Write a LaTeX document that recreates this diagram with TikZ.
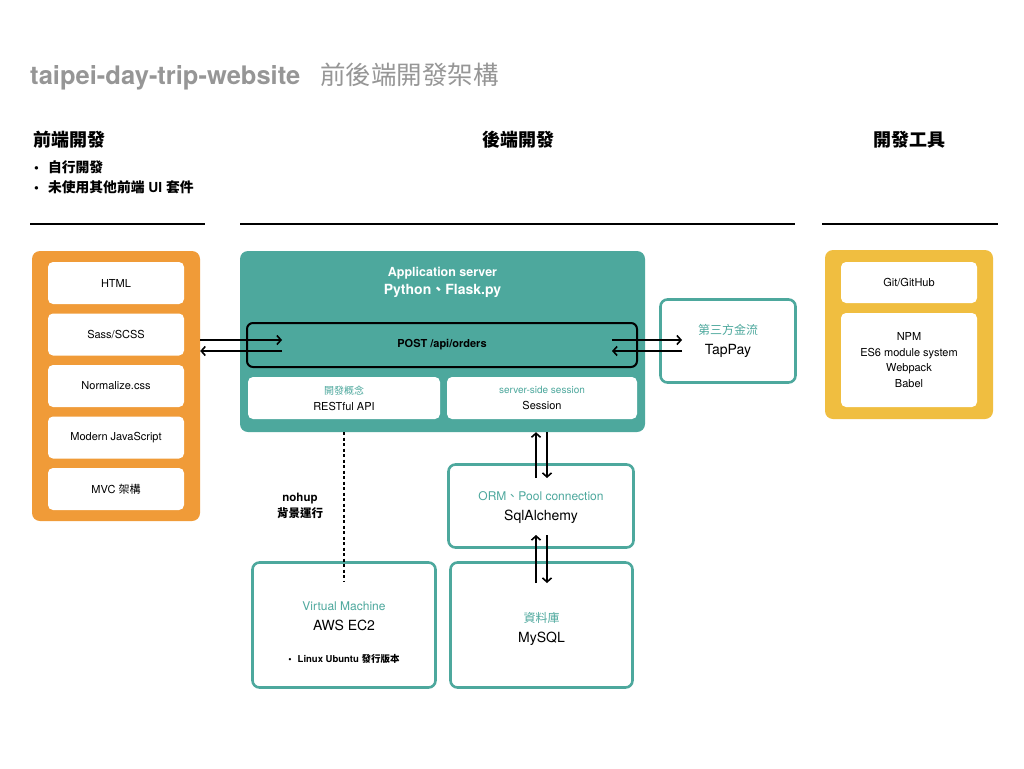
\documentclass[tikz,border=0pt]{standalone}
\usepackage{fontspec}
\setmainfont{TeX Gyre Heros}
\newfontfamily\cjk{Noto Sans CJK TC}
\usetikzlibrary{arrows.meta,calc,positioning}
\definecolor{frontorange}{RGB}{240,155,56}
\definecolor{backteal}{RGB}{77,168,157}
\definecolor{toolyellow}{RGB}{240,190,64}
\definecolor{titlegray}{RGB}{150,150,150}
\newcommand{\zh}[1]{{\cjk #1}}
\newcommand{\fsz}[2]{\fontsize{#1}{#2}\selectfont}

\begin{document}
\begin{tikzpicture}[x=1pt,y=-1pt,
  every node/.style={inner sep=0pt,align=center},
  panel/.style={rounded corners=8pt},
  item/.style={fill=white,rounded corners=5pt,minimum width=136pt,minimum height=42pt,font=\fsz{11}{14}},
  tealframe/.style={draw=backteal,line width=2.6pt,fill=white,rounded corners=7pt},
  framelabel/.style={font=\fsz{14}{20}},
  link/.style={line width=1.6pt,-{Straight Barb[length=4pt,width=9pt]}},
  heading/.style={font=\bfseries\fsz{18}{22}},
  sectionrule/.style={line width=2pt}]
  \fill[white] (0,0) rectangle (1024,768);
  \useasboundingbox (0,0) rectangle (1024,768);

  % titles
  \node[anchor=base west,font=\bfseries\fsz{25.5}{28},text=titlegray] (title) at (30,84)
    {taipei-day-trip-website\hspace{20pt}{\mdseries\zh{前後端開發架構}}};
  \node[heading] (fehead) at (69,140) {\zh{前端開發}};
  \node[heading] (behead) at (518,140) {\zh{後端開發}};
  \node[heading] (toolhead) at (909,140) {\zh{開發工具}};
  \node[anchor=west,align=left,font=\bfseries\fsz{13.8}{20}] (febullets) at (34,177)
    {\textbullet\hspace{9pt}\zh{自行開發}\\\textbullet\hspace{9pt}\zh{未使用其他前端} UI \zh{套件}};
  \draw[sectionrule] (30,224) -- (205,224);
  \draw[sectionrule] (240,224) -- (795,224);
  \draw[sectionrule] (822,224) -- (998,224);

  % front end
  \node[panel,fill=frontorange,minimum width=168pt,minimum height=270pt] (front) at (116,386) {};
  \node[item] (html) at (116,283) {HTML};
  \node[item] (sass) at (116,334.5) {Sass/SCSS};
  \node[item] (normalize) at (116,386) {Normalize.css};
  \node[item] (modernjs) at (116,437.5) {Modern JavaScript};
  \node[item] (mvc) at (116,489) {MVC \zh{架構}};

  % back end
  \node[panel,fill=backteal,minimum width=405pt,minimum height=181pt] (server) at (442.5,341.5) {};
  \node[text=white,font=\bfseries\fsz{12.5}{18}] (appname) at (442.5,282)
    {Application server\\{\fsz{14}{18}Python\zh{、}Flask.py}};
  \node[draw,line width=2pt,rounded corners=6pt,minimum width=390pt,minimum height=44pt,
    font=\bfseries\fsz{11}{14}] (post) at (442,345) {POST /api/orders};
  \node[item,minimum width=192pt,font=\fsz{11}{16}] (rest) at (344,398)
    {{\color{backteal}\fsz{10}{14}\zh{開發概念}}\\RESTful API};
  \node[item,minimum width=190pt,font=\fsz{11}{16}] (session) at (542,398)
    {{\color{backteal}\fsz{10}{14}server-side session}\\Session};

  \node[tealframe,minimum width=135pt,minimum height=83pt] (tappay) at (728,341) {};
  \node[framelabel] (tappaytext) at ($(tappay.center)+(0,0)$)
    {{\color{backteal}\fsz{12}{14}\zh{第三方金流}}\\TapPay};
  \node[tealframe,minimum width=183pt,minimum height=125pt] (aws) at (344,625) {};
  \node[framelabel] (awstext) at ($(aws.center)+(0,8)$)
    {{\color{backteal}\fsz{12}{14}Virtual Machine}\\AWS EC2\\[12pt]{\bfseries\fsz{9.5}{12}\textbullet\hspace{6pt}Linux Ubuntu \zh{發行版本}}};
  \node[tealframe,minimum width=185pt,minimum height=83pt] (orm) at (541,506) {};
  \node[framelabel] (ormtext) at ($(orm.center)+(0,2)$)
    {{\color{backteal}\fsz{12}{14}ORM\zh{、}Pool connection}\\SqlAlchemy};
  \node[tealframe,minimum width=182pt,minimum height=125pt] (mysql) at (541.5,625) {};
  \node[framelabel] (mysqltext) at ($(mysql.center)+(0,4)$)
    {{\color{backteal}\fsz{12}{14}\zh{資料庫}}\\MySQL};
  \node[font=\bfseries\fsz{11.5}{16}] (nohup) at (300,506) {nohup\\\zh{背景運行}};

  % tools
  \node[panel,fill=toolyellow,minimum width=168pt,minimum height=169pt] (tools) at (909,334.5) {};
  \node[item,minimum height=41pt] (git) at (909,282.5) {Git/GitHub};
  \node[item,minimum height=94pt,font=\fsz{11}{15.5}] (npm) at (909,360)
    {NPM\\ES6 module system\\Webpack\\Babel};

  % connectors
  \coordinate (postinA) at (282,340);
  \coordinate (postinB) at (282,351);
  \coordinate (postoutA) at (612,340);
  \coordinate (postoutB) at (612,351);
  \coordinate (payinA) at (682,340);
  \coordinate (payinB) at (682,351);
  \draw[link] (front.east |- postinA) -- (postinA);
  \draw[link] (postinB) -- (front.east |- postinB);
  \draw[link] (postoutA) -- (payinA);
  \draw[link] (payinB) -- (postoutB);

  \coordinate (awsin) at ($(aws.north)+(0,21)$);
  \draw[line width=1.6pt,dash pattern=on 3pt off 2.5pt] (rest.south |- server.south) -- (awsin);

  \coordinate (ormupA) at (536,478);
  \coordinate (ormdnA) at (547,478);
  \coordinate (ormupB) at (536,535);
  \coordinate (ormdnB) at (547,535);
  \coordinate (sqlupB) at (536,583);
  \coordinate (sqldnB) at (547,583);
  \draw[link] (ormupA) -- (ormupA |- server.south);
  \draw[link] (server.south -| ormdnA) -- (ormdnA);
  \draw[link] (sqlupB) -- (ormupB);
  \draw[link] (ormdnB) -- (sqldnB);
\end{tikzpicture}
\end{document}
